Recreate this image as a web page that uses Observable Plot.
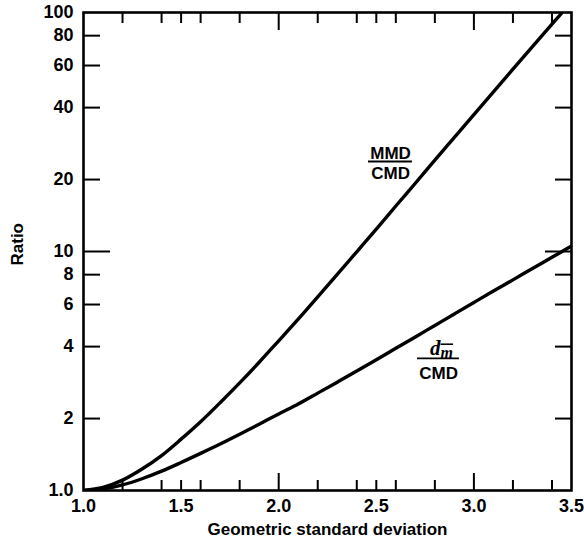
<!DOCTYPE html>
<html>
<head>
<meta charset="utf-8">
<script src="https://cdn.jsdelivr.net/npm/d3@7"></script>
<script src="https://cdn.jsdelivr.net/npm/@observablehq/plot@0.6"></script>
<style>
  html, body { margin: 0; padding: 0; background: white; }
</style>
</head>
<body>
<div id="chart"></div>
<script>
// Geometric standard deviation (x) values
const sigma = [1.0, 1.1, 1.2, 1.3, 1.4, 1.5, 1.6, 1.7, 1.8, 1.9, 2.0, 2.1, 2.2, 2.3, 2.4, 2.5, 2.6, 2.7, 2.8, 2.9, 3.0, 3.1, 3.2, 3.3, 3.4, 3.5];
// MMD / CMD ratio
const mmdRatio = [1.0, 1.03, 1.105, 1.23, 1.40, 1.64, 1.94, 2.33, 2.82, 3.44, 4.23, 5.21, 6.46, 8.02, 9.97, 12.4, 15.5, 19.3, 24.1, 30.0, 37.4, 46.5, 57.9, 72.0, 89.4, 110.8];
// d_m / CMD ratio
const dmRatio = [1.0, 1.015, 1.055, 1.12, 1.205, 1.31, 1.43, 1.565, 1.72, 1.895, 2.09, 2.30, 2.555, 2.84, 3.16, 3.525, 3.935, 4.39, 4.905, 5.48, 6.12, 6.83, 7.61, 8.49, 9.46, 10.55];

// Tick labels and tick positions
const xLabelTicks = [1.0, 1.5, 2.0, 2.5, 3.0, 3.5];
const xMinorTicks = [1.2, 1.4, 1.5, 1.6, 1.8, 2.2, 2.4, 2.5, 2.6, 2.8, 3.2, 3.4];
const xMajorTicks = [2.0, 3.0];
const yLabelTicks = [1, 2, 4, 6, 8, 10, 20, 40, 60, 80, 100];
const yLabelText = ["1.0", "2", "4", "6", "8", "10", "20", "40", "60", "80", "100"];
const yMinorTicks = [2, 4, 6, 8, 20, 40, 60, 80];
const yMajorTicks = [10];

// Curve labels (fractions) in data coordinates
const mmdLabelX = 2.573;
const mmdNumY = 25.8, mmdBarY = 23.8, mmdDenY = 21.2, mmdBarX = [2.46, 2.685];
const dmLabelX = 2.819;
const dmNumY = 3.89, dmBarY = 3.57, dmDenY = 3.10, dmBarX = [2.711, 2.926];

const mmdData = sigma.map((s, i) => ({s, r: mmdRatio[i]}));
const dmData = sigma.map((s, i) => ({s, r: dmRatio[i]}));
const yLabels = yLabelTicks.map((v, i) => ({v, t: yLabelText[i]}));

const font = "'Liberation Sans', Arial, Helvetica, sans-serif";

const plot = Plot.plot({
  width: 584,
  height: 548,
  marginLeft: 83,
  marginRight: 13,
  marginTop: 12,
  marginBottom: 58,
  style: {fontFamily: font, fontWeight: "bold", color: "black", background: "white", overflow: "visible"},
  x: {domain: [1, 3.5], axis: null},
  y: {type: "log", domain: [1, 100], axis: null},
  marks: [
    Plot.line(mmdData, {x: "s", y: "r", stroke: "black", strokeWidth: 3.4, curve: "catmull-rom", clip: true}),
    Plot.line(dmData, {x: "s", y: "r", stroke: "black", strokeWidth: 3.4, curve: "catmull-rom", clip: true}),
    // tick labels
    Plot.text(xLabelTicks, {x: d => d, frameAnchor: "bottom", lineAnchor: "top", dy: 9, text: d => d.toFixed(1), fontSize: 18, fontWeight: "bold", fill: "black"}),
    Plot.text(yLabels, {y: "v", frameAnchor: "left", textAnchor: "end", dx: -10, text: "t", fontSize: 18, fontWeight: "bold", fill: "black"}),
    // inward ticks
    Plot.axisX({anchor: "bottom", ticks: xMinorTicks, tickSize: -10, tickFormat: () => "", strokeWidth: 2, label: null}),
    Plot.axisX({anchor: "bottom", ticks: xMajorTicks, tickSize: -17, tickFormat: () => "", strokeWidth: 2, label: null}),
    Plot.axisX({anchor: "top", ticks: xMinorTicks, tickSize: -10, tickFormat: () => "", strokeWidth: 2, label: null}),
    Plot.axisX({anchor: "top", ticks: xMajorTicks, tickSize: -17, tickFormat: () => "", strokeWidth: 2, label: null}),
    Plot.axisY({anchor: "left", ticks: yMinorTicks, tickSize: -17, tickFormat: () => "", strokeWidth: 2, label: null}),
    Plot.axisY({anchor: "left", ticks: yMajorTicks, tickSize: -27, tickFormat: () => "", strokeWidth: 2, label: null}),
    Plot.axisY({anchor: "right", ticks: yMinorTicks, tickSize: -17, tickFormat: () => "", strokeWidth: 2, label: null}),
    Plot.axisY({anchor: "right", ticks: yMajorTicks, tickSize: -27, tickFormat: () => "", strokeWidth: 2, label: null}),
    // axis titles
    Plot.text(["Geometric standard deviation"], {frameAnchor: "bottom", dy: 44, fontSize: 17, fontWeight: "bold", fill: "black"}),
    Plot.text(["Ratio"], {frameAnchor: "left", rotate: -90, dx: -66, dy: 14, fontSize: 17, fontWeight: "bold", fill: "black"}),
    // curve labels
    Plot.text([{x: mmdLabelX, y: mmdNumY, t: "MMD"}, {x: mmdLabelX, y: mmdDenY, t: "CMD"}], {x: "x", y: "y", text: "t", fontSize: 17, fontWeight: "bold", fill: "black"}),
    Plot.ruleY([{y: mmdBarY, x1: mmdBarX[0], x2: mmdBarX[1]}], {y: "y", x1: "x1", x2: "x2", stroke: "black", strokeWidth: 1.8}),
    Plot.text([{x: dmLabelX, y: dmDenY, t: "CMD"}], {x: "x", y: "y", text: "t", fontSize: 17, fontWeight: "bold", fill: "black"}),
    Plot.text([{x: dmLabelX, y: dmNumY, t: "dm"}], {x: "x", y: "y", text: "t", dx: 3, dy: -1, fontSize: 21, fontWeight: "bold", fill: "black"}),
    Plot.ruleY([{y: dmBarY, x1: dmBarX[0], x2: dmBarX[1]}], {y: "y", x1: "x1", x2: "x2", stroke: "black", strokeWidth: 1.8}),
    Plot.frame({stroke: "black", strokeWidth: 2.6})
  ]
});

// Style the d_m numerator: italic serif d with overlined subscript m
Array.from(plot.querySelectorAll("text")).filter(n => n.textContent === "dm").forEach(n => {
  const t = d3.select(n);
  t.text(null);
  t.attr("font-family", "'Liberation Serif', 'Times New Roman', serif").attr("font-weight", "bold");
  t.append("tspan").attr("font-style", "italic").text("d");
  t.append("tspan").attr("font-style", "italic").attr("font-size", 16).attr("dy", "0.2em")
    .style("text-decoration", "overline").text("m");
});

document.getElementById("chart").appendChild(plot);
</script>
</body>
</html>
